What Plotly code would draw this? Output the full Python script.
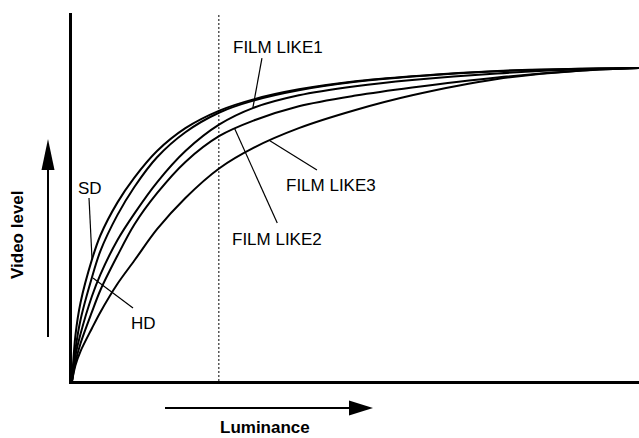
import plotly.graph_objects as go

# ---- data ----
luminance = [0, 0.6, 1.5, 3.5, 5, 8, 11, 15, 20, 26, 32, 40, 50, 60, 75, 90, 100]
sd_level  = [0, 14.5, 25, 38.7, 46.5, 57, 65, 73.5, 80.8, 86.4, 90, 93.2, 95.8, 97.4, 99.1, 99.8, 100]
hd_level  = [0, 10, 19.5, 33, 41.5, 53, 62, 71.5, 79.5, 85.8, 89.6, 92.9, 95.6, 97.3, 99.0, 99.8, 100]
film1     = [0, 8, 15, 27, 34, 45, 53.5, 63.5, 73.5, 82, 87.3, 91.3, 94.2, 96.2, 98.3, 99.6, 100]
film2     = [0, 6, 12, 22, 29, 40, 50, 60, 70, 78.3, 83.2, 87.8, 91.2, 93.8, 97, 99.2, 100]
film3     = [0, 5, 9.5, 16.8, 22, 31, 38.5, 48.5, 58.5, 68, 74.5, 80.8, 86.6, 91.3, 96.5, 99.2, 100]

series_names = ["SD", "HD", "FILM LIKE1", "FILM LIKE2", "FILM LIKE3"]
series_vals = [sd_level, hd_level, film1, film2, film3]

# label text position and leader line (start near text, end on curve)
label_text = ["SD", "HD", "FILM LIKE1", "FILM LIKE2", "FILM LIKE3"]
label_x    = [3.2, 12.6, 36.3, 36.2, 45.7]
label_y    = [61.5, 18.4, 106.7, 45.2, 62.6]
lead_x0    = [3.0, 10.76, 33.5, 36.2, 43.2]
lead_y0    = [58.5, 23.3, 103.2, 50.5, 67.4]
lead_x1    = [3.53, 3.7, 31.9, 28.7, 34.9]
lead_y1    = [38.9, 32.9, 87.3, 80.6, 76.8]

dotted_x = 25.9

FONT = "Liberation Sans, Arial, Helvetica, sans-serif"

fig = go.Figure()
for name, vals in zip(series_names, series_vals):
    fig.add_trace(go.Scatter(
        x=luminance, y=vals, mode="lines", name=name,
        line=dict(color="black", width=2, shape="spline", smoothing=0.9),
        hoverinfo="skip", showlegend=False, cliponaxis=False,
    ))

shapes = []
# dotted reference line
shapes.append(dict(type="line", xref="x", yref="paper", x0=dotted_x, x1=dotted_x,
                   y0=0, y1=1, line=dict(color="black", width=1, dash="2px,2px")))
# leader lines
for x0, y0, x1, y1 in zip(lead_x0, lead_y0, lead_x1, lead_y1):
    shapes.append(dict(type="line", xref="x", yref="y", x0=x0, y0=y0, x1=x1, y1=y1,
                       line=dict(color="black", width=1.2)))

# plot area spans page px 72..639, 13..381
W, H = 567.0, 368.0
def px(xp):
    return (xp - 72) / W
def py(yp):
    return (381 - yp) / H

# vertical arrow
shapes.append(dict(type="line", xref="paper", yref="paper",
                   x0=px(48), x1=px(48), y0=py(337), y1=py(168),
                   line=dict(color="black", width=2)))
shapes.append(dict(type="path", xref="paper", yref="paper",
                   path=f"M {px(41.5)} {py(170)} L {px(54.5)} {py(170)} L {px(48)} {py(139)} Z",
                   fillcolor="black", line=dict(color="black", width=0)))
# horizontal arrow
shapes.append(dict(type="line", xref="paper", yref="paper",
                   x0=px(165), x1=px(351), y0=py(408), y1=py(408),
                   line=dict(color="black", width=2)))
shapes.append(dict(type="path", xref="paper", yref="paper",
                   path=f"M {px(349)} {py(400.5)} L {px(349)} {py(415.5)} L {px(373)} {py(408)} Z",
                   fillcolor="black", line=dict(color="black", width=0)))

annotations = []
for t, x, y in zip(label_text, label_x, label_y):
    annotations.append(dict(text=t, x=x, y=y, xref="x", yref="y", showarrow=False,
                            font=dict(family=FONT, size=17, color="black"),
                            xanchor="center", yanchor="middle"))
annotations.append(dict(text="<b>Luminance</b>", x=px(265), y=py(427), xref="paper", yref="paper",
                        showarrow=False, borderpad=0, font=dict(family=FONT, size=17, color="black"),
                        xanchor="center", yanchor="middle"))
annotations.append(dict(text="<b>Video level</b>", x=px(17), y=py(235), xref="paper", yref="paper",
                        showarrow=False, textangle=-90, font=dict(family=FONT, size=17, color="black"),
                        xanchor="center", yanchor="middle"))

fig.update_layout(
    width=639, height=438,
    margin=dict(l=72, r=0, t=13, b=57),
    paper_bgcolor="white", plot_bgcolor="white",
    shapes=shapes, annotations=annotations,
    xaxis=dict(range=[0, 100], showgrid=False, zeroline=False, showticklabels=False,
               ticks="", showline=True, linecolor="black", linewidth=3, fixedrange=True),
    yaxis=dict(range=[0, 117.6], showgrid=False, zeroline=False, showticklabels=False,
               ticks="", showline=True, linecolor="black", linewidth=3, fixedrange=True),
)

fig.write_html(
    "out.html",
    config={"displayModeBar": False},
    post_script="document.body.style.margin='0px';document.body.style.overflow='hidden';",
)
